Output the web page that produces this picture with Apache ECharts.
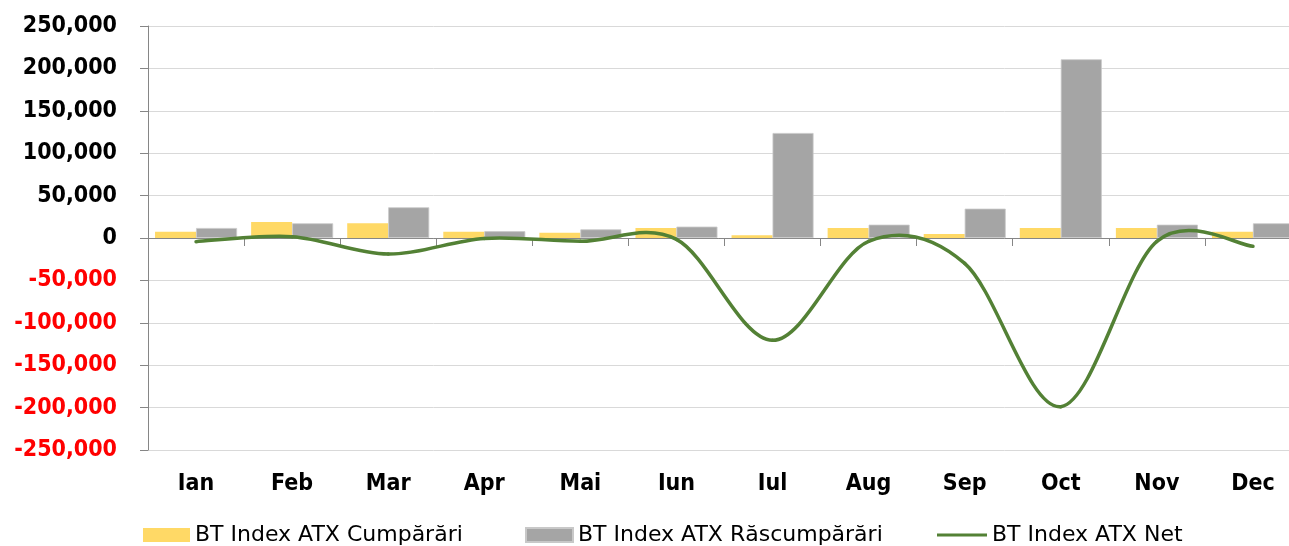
<!DOCTYPE html>
<html>
<head>
<meta charset="utf-8">
<script src="https://cdn.jsdelivr.net/npm/echarts@6/dist/echarts.min.js"></script>
<style>
html,body{margin:0;padding:0;background:#ffffff;}
#c{width:1289px;height:546px;}
</style>
</head>
<body>
<div id="c"></div>
<script>
// ---- data ----
const months = ['Ian','Feb','Mar','Apr','Mai','Iun','Iul','Aug','Sep','Oct','Nov','Dec'];
const cumparari = [7500, 18900, 17300, 7500, 6300, 11800, 3100, 11800, 4700, 11800, 11800, 7500];
const rascumparari = [11800, 17300, 36200, 8000, 10200, 13400, 123800, 15700, 34600, 210700, 15700, 17300];
const netValues = [-4300, 1600, -18900, -500, -3900, -1600, -120700, -3900, -29900, -198900, -3900, -9800];
const yTicks = [-250000, -200000, -150000, -100000, -50000, 0, 50000, 100000, 150000, 200000, 250000];
const seriesNames = ['BT Index ATX Cumpărări', 'BT Index ATX Răscumpărări', 'BT Index ATX Net'];

// ---- style ----
const COL_BUY = '#FFD966';
const COL_SELL = '#A5A5A5';
const COL_NET = '#538135';
const AXIS_COL = '#868686';

function fmt(v) {
  v = Number(v);
  const s = Math.abs(v).toString().replace(/\B(?=(\d{3})+(?!\d))/g, ',');
  return (v < 0 ? '-' : '') + s;
}

// Smoothed (Catmull-Rom style) net line drawn through the chart's own coordinate system
function renderNet(params, api) {
  const i = params.dataIndex;
  const n = netValues.length;
  if (i >= n - 1) return null;
  const P = function (k) {
    const kk = Math.max(0, Math.min(n - 1, k));
    return api.coord([kk, netValues[kk]]);
  };
  const p0 = P(i - 1), p1 = P(i), p2 = P(i + 1), p3 = P(i + 2);
  const c1 = [p1[0] + (p2[0] - p0[0]) / 6, p1[1] + (p2[1] - p0[1]) / 6];
  const c2 = [p2[0] - (p3[0] - p1[0]) / 6, p2[1] - (p3[1] - p1[1]) / 6];
  return {
    type: 'bezierCurve',
    shape: { x1: p1[0], y1: p1[1], x2: p2[0], y2: p2[1], cpx1: c1[0], cpy1: c1[1], cpx2: c2[0], cpy2: c2[1] },
    style: { stroke: COL_NET, lineWidth: 3.5, fill: null, lineCap: 'round' },
    silent: true
  };
}

const chart = echarts.init(document.getElementById('c'), null, { renderer: 'canvas' });

const legendText = { fontFamily: 'DejaVu Sans', fontSize: 22, color: '#000000' };

chart.setOption({
  animation: false,
  backgroundColor: '#ffffff',
  grid: { left: 148, top: 26, width: 1153, height: 424, containLabel: false, outerBoundsMode: 'none' },
  legend: [
    { data: [seriesNames[0]], left: 143, top: 524, padding: 0, icon: 'rect', itemWidth: 47, itemHeight: 14, textStyle: legendText, selectedMode: false },
    { data: [seriesNames[1]], left: 525, top: 524, padding: 0, icon: 'rect', itemWidth: 47, itemHeight: 14, textStyle: legendText, selectedMode: false },
    { data: [seriesNames[2]], left: 937, top: 524, padding: 0, icon: 'rect', itemWidth: 50, itemHeight: 3, textStyle: legendText, selectedMode: false }
  ],
  xAxis: [
    {
      type: 'category',
      data: months,
      position: 'bottom',
      boundaryGap: true,
      axisLine: { show: true, onZero: true, lineStyle: { color: AXIS_COL, width: 1 } },
      axisTick: { show: true, length: 8, lineStyle: { color: AXIS_COL } },
      axisLabel: { show: false },
      splitLine: { show: false }
    },
    {
      type: 'category',
      data: months,
      position: 'bottom',
      boundaryGap: true,
      axisLine: { show: false, onZero: false },
      axisTick: { show: false },
      axisLabel: {
        show: true,
        margin: 23,
        fontFamily: 'DejaVu Sans Condensed',
        fontWeight: 'bold',
        fontSize: 23,
        color: '#000000'
      },
      splitLine: { show: false }
    }
  ],
  yAxis: {
    type: 'value',
    min: yTicks[0],
    max: yTicks[yTicks.length - 1],
    interval: yTicks[1] - yTicks[0],
    axisLine: { show: true, lineStyle: { color: AXIS_COL, width: 1 } },
    axisTick: { show: true, length: 8, lineStyle: { color: AXIS_COL } },
    axisLabel: {
      margin: 31,
      formatter: fmt,
      color: function (v) { return Number(v) < 0 ? '#FF0000' : '#000000'; },
      fontFamily: 'DejaVu Sans Condensed',
      fontWeight: 'bold',
      fontSize: 23
    },
    splitLine: { show: true, lineStyle: { color: '#D9D9D9', width: 1 } }
  },
  series: [
    {
      name: seriesNames[0],
      type: 'bar',
      xAxisIndex: 0,
      data: cumparari,
      barWidth: 41,
      barGap: '0%',
      itemStyle: { color: COL_BUY },
      z: 2
    },
    {
      name: seriesNames[1],
      type: 'bar',
      xAxisIndex: 0,
      data: rascumparari,
      barWidth: 41,
      barGap: '0%',
      itemStyle: { color: COL_SELL, borderColor: '#C8C8C8', borderWidth: 0.8 },
      z: 2
    },
    {
      name: seriesNames[2],
      type: 'custom',
      xAxisIndex: 0,
      data: netValues.map(function (v, i) { return [i, v]; }),
      encode: { x: 0, y: 1 },
      renderItem: renderNet,
      itemStyle: { color: COL_NET },
      z: 5
    }
  ]
});
</script>
</body>
</html>
